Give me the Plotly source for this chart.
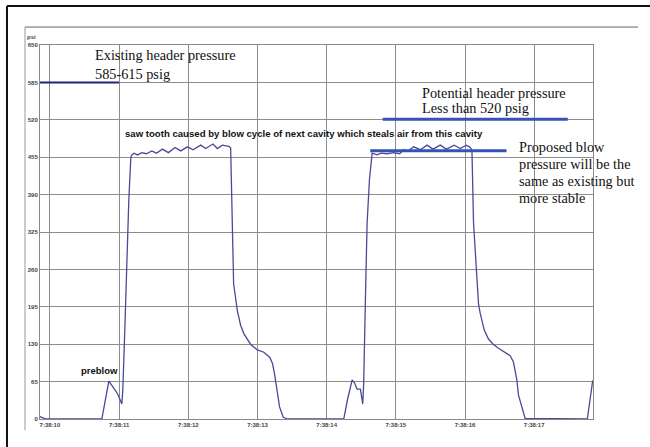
import plotly.graph_objects as go

# time in seconds after 7:38:10, pressure in psi
time_s = [-0.144, -0.058, 0.75, 0.80, 0.851, 0.91, 0.981, 1.039, 1.053, 1.082, 1.111, 1.14, 1.169, 1.183,
          1.216, 1.266, 1.328, 1.395, 1.472, 1.540, 1.626, 1.713, 1.808, 1.890, 1.987, 2.068, 2.179, 2.251,
          2.356, 2.420, 2.492, 2.587, 2.612,
          2.626, 2.641, 2.655, 2.709, 2.756, 2.804, 2.900, 2.997, 3.092, 3.179, 3.218, 3.247, 3.286, 3.319,
          3.372, 3.434,
          4.247, 4.300, 4.368, 4.401, 4.440, 4.488, 4.521, 4.535, 4.560, 4.584, 4.618, 4.657,
          4.729, 4.786, 4.873, 4.968, 5.055, 5.113, 5.18, 5.257, 5.354, 5.450, 5.537, 5.642, 5.729, 5.844,
          5.931, 6.017, 6.065,
          6.100, 6.123, 6.172, 6.195, 6.219, 6.244, 6.277, 6.339, 6.407, 6.483, 6.566, 6.652, 6.700, 6.749,
          6.772, 6.821, 6.869,
          7.768, 7.807, 7.846]
psi = [4, 0, 0, 36, 66, 56, 43, 26, 50, 155, 276, 381, 454, 459,
       462, 459, 463, 461, 466, 462, 469, 463, 472, 466, 473, 468, 476, 470,
       478, 470, 476, 474, 471,
       398, 294, 235, 188, 163, 148, 130, 120, 116, 107, 96, 78, 45, 21,
       3, 0,
       0, 33, 68, 63, 52, 52, 26, 61, 207, 339, 415, 462,
       459, 462, 461, 463, 461, 468, 466, 473, 468, 476, 469, 476, 469, 476,
       470, 476, 473,
       468, 341, 242, 200, 184, 171, 155, 139, 130, 123, 116, 110, 99, 68,
       42, 19, 1,
       0, 33, 67]

y_ticks = [0, 65, 130, 195, 260, 325, 390, 455, 520, 585, 650]
x_ticks = [0, 1, 2, 3, 4, 5, 6, 7]
x_labels = ["7:38:10", "7:38:11", "7:38:12", "7:38:13", "7:38:14", "7:38:15", "7:38:16", "7:38:17"]

# reference pressure lines: (start s, end s, psi)
existing_line = [-0.144, 1.0, 585]
potential_line = [4.81, 7.485, 521]
proposed_line = [4.63, 6.60, 466]

serif = "Liberation Serif"
sans = "Liberation Sans"

fig = go.Figure()
fig.add_trace(go.Scatter(x=time_s, y=psi, mode="lines",
                         line=dict(color="#4a4a96", width=1.3), showlegend=False))
fig.add_trace(go.Scatter(x=existing_line[:2], y=[existing_line[2]] * 2, mode="lines",
                         line=dict(color="#23237a", width=2), showlegend=False))
fig.add_trace(go.Scatter(x=potential_line[:2], y=[potential_line[2]] * 2, mode="lines",
                         line=dict(color="#3553b5", width=3), showlegend=False))
fig.add_trace(go.Scatter(x=proposed_line[:2], y=[proposed_line[2]] * 2, mode="lines",
                         line=dict(color="#3553b5", width=3), showlegend=False))

ann = []
def txt(x, y, s, size, fam, bold=False):
    ann.append(dict(x=x, y=y, xref="x", yref="y", text=s, showarrow=False,
                    xanchor="left", yanchor="middle", align="left",
                    font=dict(family=fam, size=size, color="#111",
                              weight="bold" if bold else "normal")))

txt(0.62, 633, "Existing header pressure", 14.3, serif)
txt(0.62, 600, "585-615 psig", 14.3, serif)
txt(5.354, 567, "Potential header pressure", 14.3, serif)
txt(5.354, 541, "Less than 520 psig", 14.3, serif)
txt(1.053, 497, "saw tooth caused by blow cycle of next cavity which steals air from this cavity", 9.6, sans, True)
txt(6.753, 473, "Proposed blow", 14.3, serif)
txt(6.753, 443, "pressure will be the", 14.3, serif)
txt(6.753, 414, "same as existing but", 14.3, serif)
txt(6.753, 384, "more stable", 14.3, serif)
txt(0.418, 85, "preblow", 9.5, sans, True)
ann.append(dict(x=-0.027, y=1.022, xref="paper", yref="paper", text="psi", showarrow=False,
                xanchor="left", yanchor="middle", font=dict(family=sans, size=6, color="#444", weight="bold")))

shapes = [
    dict(type="line", xref="paper", yref="paper", x0=-0.0597, x1=1.11, y0=1.104, y1=1.104,
         line=dict(color="#111", width=2)),
    dict(type="line", xref="paper", yref="paper", x0=-0.0597, x1=-0.0597, y0=1.104, y1=-0.08,
         line=dict(color="#111", width=2)),
    dict(type="line", xref="paper", yref="paper", x0=-0.0271, x1=1.0814, y0=1.048, y1=1.048,
         line=dict(color="#666", width=1)),
    dict(type="line", xref="paper", yref="paper", x0=-0.0271, x1=-0.0271, y0=1.048, y1=-0.03,
         line=dict(color="#999", width=1)),
]

fig.update_layout(
    width=650, height=447,
    margin=dict(l=40, r=57, t=45, b=28),
    paper_bgcolor="white", plot_bgcolor="white",
    annotations=ann, shapes=shapes,
    xaxis=dict(range=[-0.144, 7.85], tickvals=x_ticks, ticktext=x_labels,
               showgrid=True, gridcolor="#8c8c8c", gridwidth=1, zeroline=False,
               showline=True, linecolor="#888", linewidth=1, mirror=True, ticks="",
               tickfont=dict(family=sans, size=6, color="#444", weight="bold")),
    yaxis=dict(range=[0, 650], tickvals=y_ticks, ticktext=[str(v) for v in y_ticks],
               showgrid=True, gridcolor="#8c8c8c", gridwidth=1, zeroline=False,
               showline=True, linecolor="#888", linewidth=1, mirror=True, ticks="",
               tickfont=dict(family=sans, size=6, color="#444", weight="bold")),
)

fig.write_html("out.html", config={"displayModeBar": False},
               post_script="document.body.style.margin='0px';")
